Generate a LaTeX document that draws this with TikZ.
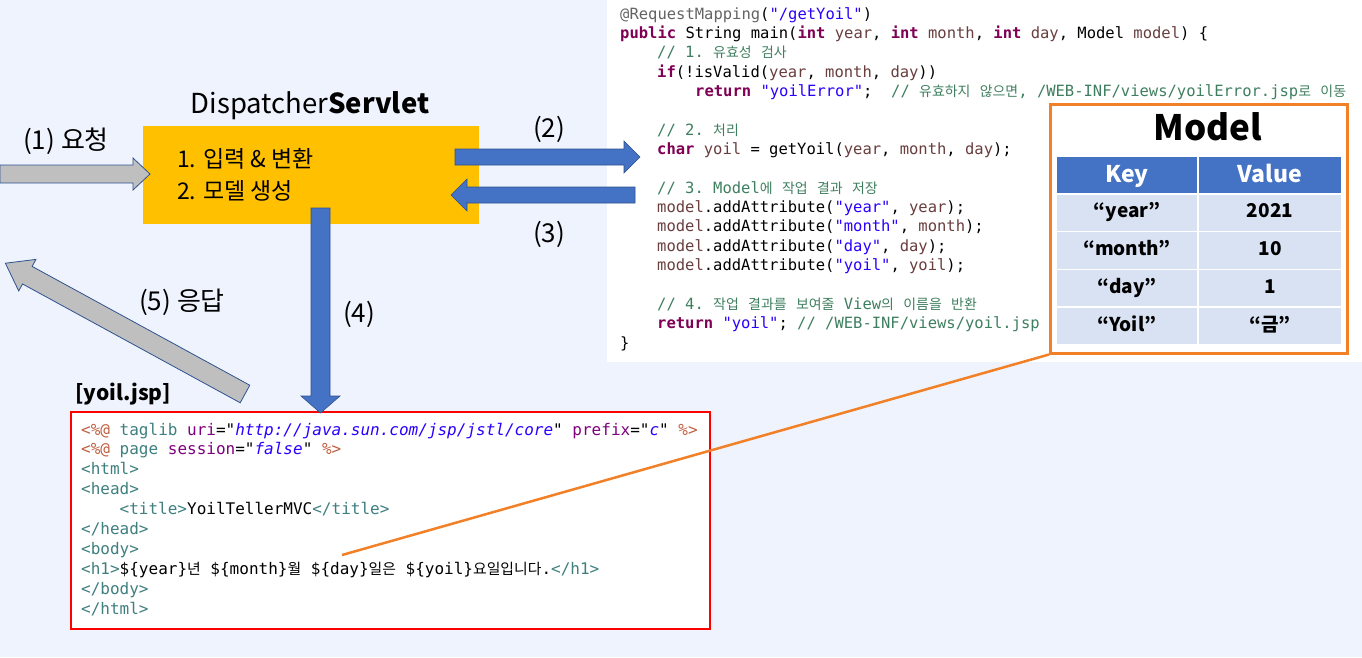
\documentclass[tikz,border=0pt]{standalone}
\usepackage{fontspec}
\setmainfont{Noto Sans CJK KR}
\setmonofont{DejaVu Sans Mono}
\newfontfamily\krA[Scale=0.9]{Noto Sans CJK KR}
\newfontfamily\krB[Scale=0.93]{Noto Sans CJK KR}
\definecolor{bgcol}{RGB}{239,243,253}
\definecolor{yel}{RGB}{255,192,0}
\definecolor{arrblue}{RGB}{68,114,196}
\definecolor{arredge}{RGB}{47,82,143}
\definecolor{arrgray}{RGB}{191,191,191}
\definecolor{orng}{RGB}{242,128,38}
\definecolor{hdr}{RGB}{68,114,196}
\definecolor{rowc}{RGB}{217,226,243}
\definecolor{kwcol}{RGB}{127,0,85}
\definecolor{varcol}{RGB}{106,62,62}
\definecolor{strcol}{RGB}{42,0,255}
\definecolor{cmcol}{RGB}{63,127,95}
\definecolor{anncol}{RGB}{100,100,100}
\definecolor{jdir}{RGB}{191,95,63}
\definecolor{jtag}{RGB}{63,127,127}
\definecolor{jatt}{RGB}{127,0,127}
\newcommand\Kw[1]{\textcolor{kwcol}{\bfseries #1}}
\newcommand\Vr[1]{\textcolor{varcol}{#1}}
\newcommand\Sr[1]{\textcolor{strcol}{#1}}
\newcommand\Cm[1]{\textcolor{cmcol}{#1}}
\newcommand\Ka[1]{{\krA #1}}
\newcommand\Kb[1]{{\krB #1}}
\newcommand\Jd[1]{\textcolor{jdir}{#1}}
\newcommand\Jt[1]{\textcolor{jtag}{#1}}
\newcommand\Ja[1]{\textcolor{jatt}{#1}}
\newcommand\Jv[1]{\textcolor{strcol}{\itshape #1}}
\tikzset{
  codeline/.style={anchor=base west, inner sep=0pt, font=\ttfamily\fontsize{15.5}{18}\selectfont},
  jspline/.style={anchor=base west, inner sep=0pt, font=\ttfamily\fontsize{16}{18}\selectfont},
  lbl/.style={anchor=base west, inner sep=0pt, font=\fontsize{26}{30}\selectfont},
  yellabel/.style={anchor=base west, inner sep=0pt, font=\fontsize{23}{26}\selectfont},
  graybody/.style={fill=arrgray, draw=arredge, line width=0.8pt, line join=miter},
  bluebody/.style={fill=arrblue, draw=arredge, line width=0.6pt, line join=miter},
  cell/.style={draw=white, line width=1.5pt, inner sep=0pt, minimum height=37.8pt,
     font=\bfseries\fontsize{19}{21}\selectfont, text height=14pt, text depth=4pt},
  hcell/.style={cell, fill=hdr, text=white, font=\bfseries\fontsize{23}{25}\selectfont, text height=17pt, text depth=2pt},
}
\begin{document}
\begin{tikzpicture}[x=1pt,y=-1pt]
\useasboundingbox (0,0) rectangle (1362,657);
\fill[bgcol] (0,0) rectangle (1362,657);
% code panel
\fill[white] (607,0) rectangle (1362,362);

% DispatcherServlet box
\node[anchor=base, inner sep=0pt, font=\fontsize{27.5}{30}\selectfont] (dstitle) at (310,113) {Dispatcher\textbf{Servlet}};
\node[fill=yel, inner sep=0pt, minimum width=336pt, minimum height=98pt, anchor=north west] (ds) at (143,126) {};
\node[yellabel] (ds1) at (177,167) {1. 입력 \& 변환};
\node[yellabel] (ds2) at (177,199) {2. 모델 생성};

% arrow (1)
\draw[graybody] (0,165) -- (133,165) -- (133,158) -- (150,174) -- (133,190) -- (133,183) -- (0,183) -- cycle;
\node[lbl] (l1) at (23,149) {(1) 요청};
% arrow (2)
\draw[bluebody] (455,149) -- (624,149) -- (624,141) -- (640,157) -- (624,173) -- (624,165) -- (455,165) -- cycle;
\node[lbl] (l2) at (533,137) {(2)};
% arrow (3)
\draw[bluebody] (635,187) -- (467,187) -- (467,179) -- (451,195) -- (467,211) -- (467,203) -- (635,203) -- cycle;
\node[lbl] (l3) at (533,242) {(3)};
% arrow (5)
\begin{scope}[shift={(245,394)}, rotate=151.37]
\draw[graybody] (0,-10) -- (248,-10) -- (248,-18) -- (273,0) -- (248,18) -- (248,10) -- (0,10) -- cycle;
\end{scope}
\node[lbl] (l5) at (139,310) {(5) 응답};

% JSP box
\node[anchor=base west, inner sep=0pt, font=\bfseries\fontsize{21}{24}\selectfont] (jsptitle) at (75,400) {[yoil.jsp]};
\draw[red, line width=2.5pt, fill=white] (71,412) rectangle (710,629);
\node[jspline] (j1) at (81,435.0) {\Jd{<\%@} \Jt{taglib} \Ja{uri}="\Jv{http://java.sun.com/jsp/jstl/core}" \Ja{prefix}="\Jv{c}" \Jd{\%>}};
\node[jspline] (j2) at (81,454.9) {\Jd{<\%@} \Jt{page} \Ja{session}="\Jv{false}" \Jd{\%>}};
\node[jspline] (j3) at (81,474.8) {\Jt{<html>}};
\node[jspline] (j4) at (81,494.7) {\Jt{<head>}};
\node[jspline] (j5) at (119.5,514.6) {\Jt{<title>}YoilTellerMVC\Jt{</title>}};
\node[jspline] (j6) at (81,534.5) {\Jt{</head>}};
\node[jspline] (j7) at (81,554.4) {\Jt{<body>}};
\node[jspline] (j8) at (81,574.3) {\Jt{<h1>}\$\{year\}\Kb{년} \$\{month\}\Kb{월} \$\{day\}\Kb{일은} \$\{yoil\}\Kb{요일입니다}.\Jt{</h1>}};
\node[jspline] (j9) at (81,594.2) {\Jt{</body>}};
\node[jspline] (j10) at (81,614.1) {\Jt{</html>}};

% arrow (4)
\draw[bluebody] (311,208) -- (330,208) -- (330,396) -- (340,396) -- (320.5,413) -- (301,396) -- (311,396) -- cycle;
\node[lbl] (l4) at (343,322) {(4)};

% Java code
\node[codeline] (c1) at (620,19.0) {\textcolor{anncol}{@RequestMapping}(\Sr{"/getYoil"})};
\node[codeline] (c2) at (620,38.4) {\Kw{public} String main(\Kw{int} \Vr{year}, \Kw{int} \Vr{month}, \Kw{int} \Vr{day}, Model \Vr{model}) \{};
\node[codeline] (c3) at (657,57.7) {\Cm{// 1. \Ka{유효성} \Ka{검사}}};
\node[codeline] (c4) at (657,77.0) {\Kw{if}(!isValid(\Vr{year}, \Vr{month}, \Vr{day}))};
\node[codeline] (c5) at (695,96.4) {\Kw{return} \Sr{"yoilError"};~~\Cm{// \Ka{유효하지} \Ka{않으면}, /WEB-INF/views/yoilError.jsp\Ka{로} \Ka{이동}}};
\node[codeline] (c6) at (657,135.1) {\Cm{// 2. \Ka{처리}}};
\node[codeline] (c7) at (657,154.5) {\Kw{char} \Vr{yoil} = getYoil(\Vr{year}, \Vr{month}, \Vr{day});};
\node[codeline] (c8) at (657,193.2) {\Cm{// 3. Model\Ka{에} \Ka{작업} \Ka{결과} \Ka{저장}}};
\node[codeline] (c9) at (657,212.5) {\Vr{model}.addAttribute(\Sr{"year"}, \Vr{year});};
\node[codeline] (c10) at (657,231.9) {\Vr{model}.addAttribute(\Sr{"month"}, \Vr{month});};
\node[codeline] (c11) at (657,251.2) {\Vr{model}.addAttribute(\Sr{"day"}, \Vr{day});};
\node[codeline] (c12) at (657,270.6) {\Vr{model}.addAttribute(\Sr{"yoil"}, \Vr{yoil});};
\node[codeline] (c13) at (657,309.3) {\Cm{// 4. \Ka{작업} \Ka{결과를} \Ka{보여줄} View\Ka{의} \Ka{이름을} \Ka{반환}}};
\node[codeline] (c14) at (657,328.6) {\Kw{return} \Sr{"yoil"}; \Cm{// /WEB-INF/views/yoil.jsp}};
\node[codeline] (c15) at (620,348.0) {\}};

% Model box
\node[draw=orng, line width=2.5pt, fill=white, inner sep=0pt, minimum width=297pt, minimum height=249pt, anchor=north west] (modelbox) at (1049,103) {};
\node[anchor=base, inner sep=0pt, font=\bfseries\fontsize{35}{38}\selectfont] (modeltitle) at (1208,140) {Model};
\node[hcell, minimum width=142pt] (hk) at (1127,174.9) {Key};
\node[hcell, minimum width=144pt] (hv) at (1270,174.9) {Value};
\node[cell, fill=rowc, minimum width=142pt] (k1) at (1127,212.7) {“year”};
\node[cell, fill=rowc, minimum width=144pt] (v1) at (1270,212.7) {2021};
\node[cell, fill=rowc, minimum width=142pt] (k2) at (1127,250.5) {“month”};
\node[cell, fill=rowc, minimum width=144pt] (v2) at (1270,250.5) {10};
\node[cell, fill=rowc, minimum width=142pt] (k3) at (1127,288.3) {“day”};
\node[cell, fill=rowc, minimum width=144pt] (v3) at (1270,288.3) {1};
\node[cell, fill=rowc, minimum width=142pt] (k4) at (1127,326.1) {“Yoil”};
\node[cell, fill=rowc, minimum width=144pt] (v4) at (1270,326.1) {“금”};

% orange connector
\coordinate (dayref) at (342,555);
\draw[orng, line width=2.5pt] (dayref) -- (modelbox.south west);
\end{tikzpicture}
\end{document}
